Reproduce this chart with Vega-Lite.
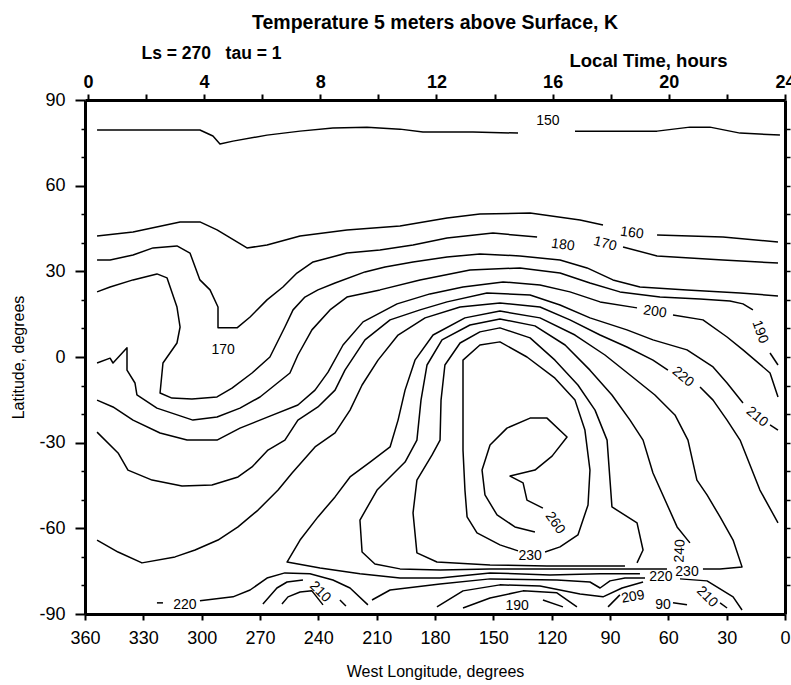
{
"$schema":"https://vega.github.io/schema/vega-lite/v6.json",
"width":700,"height":514,
"autosize":{"type":"none"},
"padding":{"left":85,"top":100,"right":6,"bottom":71},
"background":"white",
"title":{"text":"Temperature 5 meters above Surface, K","font":"Liberation Sans","fontSize":19.5,"fontWeight":"bold","color":"black","anchor":"middle","offset":11},
"config":{"view":{"stroke":null},"axis":{"grid":false,"domainColor":"black","tickColor":"black","labelColor":"black","titleColor":"black","labelFont":"Liberation Sans","titleFont":"Liberation Sans","labelFlush":false,"labelOverlap":false,"labelBound":false}},
"datasets":{
"lines":[
{"s":"A","lon":353.8,"lat":79.5},{"s":"A","lon":300.9,"lat":79.5},{"s":"A","lon":294.2,"lat":77.4},{"s":"A","lon":290.6,"lat":74.6},{"s":"A","lon":283.9,"lat":75.6},{"s":"A","lon":266.4,"lat":77.7},{"s":"A","lon":249.4,"lat":79.1},{"s":"A","lon":232.5,"lat":80.2},{"s":"A","lon":215.0,"lat":80.5},{"s":"A","lon":198.0,"lat":79.8},{"s":"A","lon":186.2,"lat":78.8},{"s":"A","lon":160.5,"lat":78.8},{"s":"A","lon":137.3,"lat":78.4},
{"s":"B","lon":108.0,"lat":79.1},{"s":"B","lon":65.8,"lat":79.1},{"s":"B","lon":48.9,"lat":80.5},{"s":"B","lon":38.6,"lat":80.5},{"s":"B","lon":23.1,"lat":78.4},{"s":"B","lon":2.6,"lat":77.7},
{"s":"C","lon":353.8,"lat":42.4},{"s":"C","lon":335.3,"lat":43.8},{"s":"C","lon":311.1,"lat":47.3},{"s":"C","lon":300.9,"lat":47.3},{"s":"C","lon":292.1,"lat":44.5},{"s":"C","lon":276.7,"lat":38.2},{"s":"C","lon":266.4,"lat":39.2},{"s":"C","lon":249.4,"lat":42.4},{"s":"C","lon":225.3,"lat":44.5},{"s":"C","lon":198.0,"lat":45.9},{"s":"C","lon":173.8,"lat":48.7},{"s":"C","lon":156.9,"lat":50.1},{"s":"C","lon":131.1,"lat":50.4},{"s":"C","lon":105.4,"lat":48.0},{"s":"C","lon":93.6,"lat":46.2},
{"s":"D","lon":65.8,"lat":42.7},{"s":"D","lon":31.9,"lat":42.0},{"s":"D","lon":3.6,"lat":40.3},
{"s":"E","lon":353.8,"lat":34.0},{"s":"E","lon":347.1,"lat":34.0},{"s":"E","lon":335.3,"lat":35.7},{"s":"E","lon":325.0,"lat":38.2},{"s":"E","lon":312.7,"lat":38.9},{"s":"E","lon":306.0,"lat":36.4},{"s":"E","lon":300.9,"lat":27.0},{"s":"E","lon":295.7,"lat":23.5},{"s":"E","lon":291.6,"lat":17.5},{"s":"E","lon":291.6,"lat":10.2},{"s":"E","lon":281.8,"lat":10.2},{"s":"E","lon":275.1,"lat":14.0},{"s":"E","lon":266.4,"lat":20.0},{"s":"E","lon":258.2,"lat":24.5},{"s":"E","lon":251.0,"lat":29.4},{"s":"E","lon":242.7,"lat":33.3},{"s":"E","lon":225.3,"lat":36.4},{"s":"E","lon":208.3,"lat":37.5},{"s":"E","lon":191.3,"lat":39.2},{"s":"E","lon":173.8,"lat":41.7},{"s":"E","lon":150.2,"lat":43.4},{"s":"E","lon":127.5,"lat":42.0},
{"s":"F","lon":83.3,"lat":38.5},{"s":"F","lon":65.8,"lat":35.4},{"s":"F","lon":31.9,"lat":34.0},{"s":"F","lon":3.6,"lat":32.9},
{"s":"G","lon":353.8,"lat":22.8},{"s":"G","lon":347.1,"lat":24.5},{"s":"G","lon":335.3,"lat":27.0},{"s":"G","lon":323.0,"lat":29.1},{"s":"G","lon":317.8,"lat":27.7},{"s":"G","lon":312.7,"lat":17.5},{"s":"G","lon":311.1,"lat":10.5},{"s":"G","lon":312.7,"lat":4.9},{"s":"G","lon":319.9,"lat":-2.1},{"s":"G","lon":321.4,"lat":-12.6},{"s":"G","lon":315.3,"lat":-14.4},{"s":"G","lon":305.0,"lat":-14.7},{"s":"G","lon":292.1,"lat":-14.0},{"s":"G","lon":284.4,"lat":-10.9},{"s":"G","lon":274.1,"lat":-5.6},{"s":"G","lon":264.9,"lat":0.0},{"s":"G","lon":257.2,"lat":10.5},{"s":"G","lon":253.0,"lat":16.5},{"s":"G","lon":246.9,"lat":21.0},{"s":"G","lon":240.2,"lat":23.5},{"s":"G","lon":231.4,"lat":25.9},{"s":"G","lon":216.0,"lat":29.8},{"s":"G","lon":205.7,"lat":31.5},{"s":"G","lon":191.3,"lat":33.3},{"s":"G","lon":173.8,"lat":35.0},{"s":"G","lon":156.9,"lat":36.1},{"s":"G","lon":136.3,"lat":35.4},{"s":"G","lon":115.7,"lat":34.0},{"s":"G","lon":101.8,"lat":31.2},{"s":"G","lon":88.5,"lat":27.0},{"s":"G","lon":74.6,"lat":24.5},{"s":"G","lon":50.4,"lat":23.5},{"s":"G","lon":23.1,"lat":22.4},{"s":"G","lon":3.6,"lat":21.4},
{"s":"H","lon":353.8,"lat":-2.1},{"s":"H","lon":347.1,"lat":-0.4},{"s":"H","lon":345.6,"lat":-2.1},{"s":"H","lon":338.4,"lat":3.2},{"s":"H","lon":338.4,"lat":-4.6},{"s":"H","lon":334.3,"lat":-9.1},{"s":"H","lon":333.3,"lat":-13.3},{"s":"H","lon":323.0,"lat":-17.9},{"s":"H","lon":304.5,"lat":-22.1},{"s":"H","lon":292.1,"lat":-21.0},{"s":"H","lon":280.3,"lat":-17.9},{"s":"H","lon":270.0,"lat":-14.0},{"s":"H","lon":262.3,"lat":-9.8},{"s":"H","lon":254.6,"lat":-5.6},{"s":"H","lon":250.5,"lat":0.7},{"s":"H","lon":243.3,"lat":9.5},{"s":"H","lon":234.0,"lat":16.5},{"s":"H","lon":225.3,"lat":21.0},{"s":"H","lon":208.3,"lat":23.5},{"s":"H","lon":187.7,"lat":27.0},{"s":"H","lon":162.0,"lat":30.5},{"s":"H","lon":136.3,"lat":31.2},{"s":"H","lon":115.7,"lat":29.4},{"s":"H","lon":100.3,"lat":25.9},{"s":"H","lon":84.9,"lat":22.8},{"s":"H","lon":64.3,"lat":21.0},{"s":"H","lon":43.7,"lat":20.3},{"s":"H","lon":28.3,"lat":19.6},{"s":"H","lon":21.6,"lat":18.6},{"s":"H","lon":16.5,"lat":16.5},
{"s":"H2","lon":7.7,"lat":1.4},{"s":"H2","lon":3.6,"lat":-2.8},
{"s":"I","lon":353.8,"lat":-15.1},{"s":"I","lon":345.6,"lat":-17.5},{"s":"I","lon":335.3,"lat":-22.1},{"s":"I","lon":321.4,"lat":-26.6},{"s":"I","lon":307.5,"lat":-29.1},{"s":"I","lon":292.1,"lat":-29.1},{"s":"I","lon":280.3,"lat":-24.9},{"s":"I","lon":264.9,"lat":-20.7},{"s":"I","lon":250.5,"lat":-16.8},{"s":"I","lon":241.7,"lat":-11.6},{"s":"I","lon":235.0,"lat":-5.3},{"s":"I","lon":227.3,"lat":4.2},{"s":"I","lon":217.0,"lat":12.3},{"s":"I","lon":199.5,"lat":18.6},{"s":"I","lon":182.6,"lat":22.1},{"s":"I","lon":165.6,"lat":24.5},{"s":"I","lon":145.0,"lat":26.3},{"s":"I","lon":126.0,"lat":25.2},{"s":"I","lon":110.6,"lat":22.8},{"s":"I","lon":95.1,"lat":19.3},{"s":"I","lon":76.1,"lat":17.2},
{"s":"I2","lon":57.6,"lat":14.7},{"s":"I2","lon":42.2,"lat":13.0},{"s":"I2","lon":29.8,"lat":7.0},{"s":"I2","lon":21.6,"lat":2.5},{"s":"I2","lon":7.7,"lat":-5.6},{"s":"I2","lon":3.6,"lat":-14.0},
{"s":"J","lon":353.8,"lat":-26.3},{"s":"J","lon":343.0,"lat":-33.6},{"s":"J","lon":337.9,"lat":-39.6},{"s":"J","lon":325.5,"lat":-43.1},{"s":"J","lon":310.1,"lat":-45.2},{"s":"J","lon":294.7,"lat":-44.8},{"s":"J","lon":281.3,"lat":-42.0},{"s":"J","lon":274.1,"lat":-38.5},{"s":"J","lon":265.9,"lat":-32.6},{"s":"J","lon":257.2,"lat":-29.1},{"s":"J","lon":250.5,"lat":-22.1},{"s":"J","lon":240.2,"lat":-17.5},{"s":"J","lon":231.4,"lat":-11.6},{"s":"J","lon":226.3,"lat":-4.6},{"s":"J","lon":216.0,"lat":6.0},{"s":"J","lon":203.1,"lat":13.0},{"s":"J","lon":187.7,"lat":16.5},{"s":"J","lon":173.8,"lat":19.3},{"s":"J","lon":153.3,"lat":22.4},{"s":"J","lon":131.1,"lat":21.7},{"s":"J","lon":115.7,"lat":18.2},{"s":"J","lon":100.3,"lat":13.7},{"s":"J","lon":81.3,"lat":9.5},{"s":"J","lon":67.9,"lat":6.0},{"s":"J","lon":50.4,"lat":2.5},{"s":"J","lon":37.0,"lat":-3.5},{"s":"J","lon":29.8,"lat":-9.1},{"s":"J","lon":21.6,"lat":-16.1},
{"s":"J2","lon":7.7,"lat":-23.8},{"s":"J2","lon":3.6,"lat":-25.6},
{"s":"K","lon":353.8,"lat":-64.1},{"s":"K","lon":343.0,"lat":-68.3},{"s":"K","lon":330.7,"lat":-72.1},{"s":"K","lon":313.7,"lat":-70.0},{"s":"K","lon":303.4,"lat":-67.6},{"s":"K","lon":291.6,"lat":-64.1},{"s":"K","lon":281.3,"lat":-59.5},{"s":"K","lon":271.0,"lat":-53.6},{"s":"K","lon":260.7,"lat":-46.6},{"s":"K","lon":253.5,"lat":-40.6},{"s":"K","lon":241.7,"lat":-31.5},{"s":"K","lon":231.4,"lat":-26.6},{"s":"K","lon":223.7,"lat":-18.6},{"s":"K","lon":217.5,"lat":-9.8},{"s":"K","lon":209.3,"lat":-1.1},{"s":"K","lon":199.0,"lat":7.7},{"s":"K","lon":185.1,"lat":13.7},{"s":"K","lon":167.1,"lat":17.5},{"s":"K","lon":146.6,"lat":18.9},{"s":"K","lon":126.0,"lat":17.5},{"s":"K","lon":110.6,"lat":13.0},{"s":"K","lon":95.1,"lat":7.7},{"s":"K","lon":81.3,"lat":3.5},{"s":"K","lon":67.9,"lat":-1.1},{"s":"K","lon":60.2,"lat":-4.6},
{"s":"K2","lon":43.7,"lat":-10.5},{"s":"K2","lon":37.0,"lat":-15.1},{"s":"K2","lon":29.8,"lat":-22.1},{"s":"K2","lon":23.1,"lat":-29.1},{"s":"K2","lon":12.9,"lat":-46.6},{"s":"K2","lon":3.6,"lat":-58.1},
{"s":"L","lon":74.6,"lat":-75.9},{"s":"L","lon":95.1,"lat":-75.9},{"s":"L","lon":120.9,"lat":-76.3},{"s":"L","lon":151.7,"lat":-75.6},{"s":"L","lon":177.4,"lat":-77.4},{"s":"L","lon":198.0,"lat":-77.4},{"s":"L","lon":218.6,"lat":-75.9},{"s":"L","lon":239.1,"lat":-73.9},{"s":"L","lon":256.1,"lat":-71.8},{"s":"L","lon":249.4,"lat":-64.1},{"s":"L","lon":240.2,"lat":-56.0},{"s":"L","lon":231.4,"lat":-49.0},{"s":"L","lon":223.7,"lat":-42.0},{"s":"L","lon":213.4,"lat":-36.8},{"s":"L","lon":203.1,"lat":-31.5},{"s":"L","lon":199.0,"lat":-22.1},{"s":"L","lon":195.4,"lat":-11.6},{"s":"L","lon":190.3,"lat":-1.1},{"s":"L","lon":181.0,"lat":7.7},{"s":"L","lon":164.6,"lat":13.7},{"s":"L","lon":146.6,"lat":16.1},{"s":"L","lon":126.0,"lat":13.7},{"s":"L","lon":108.0,"lat":7.7},{"s":"L","lon":92.6,"lat":0.7},{"s":"L","lon":79.7,"lat":-6.3},{"s":"L","lon":66.9,"lat":-13.3},{"s":"L","lon":56.6,"lat":-20.3},{"s":"L","lon":49.9,"lat":-29.1},{"s":"L","lon":45.3,"lat":-43.1},{"s":"L","lon":40.1,"lat":-48.3},{"s":"L","lon":33.4,"lat":-56.0},{"s":"L","lon":26.7,"lat":-64.1},{"s":"L","lon":22.1,"lat":-73.5},{"s":"L","lon":33.4,"lat":-74.2},{"s":"L","lon":42.2,"lat":-74.2},
{"s":"M","lon":60.7,"lat":-74.2},{"s":"M","lon":95.1,"lat":-74.2},{"s":"M","lon":120.9,"lat":-74.2},{"s":"M","lon":151.7,"lat":-74.2},{"s":"M","lon":177.4,"lat":-74.6},{"s":"M","lon":198.0,"lat":-74.2},{"s":"M","lon":210.9,"lat":-72.5},{"s":"M","lon":217.5,"lat":-68.3},{"s":"M","lon":218.6,"lat":-57.1},{"s":"M","lon":209.8,"lat":-46.6},{"s":"M","lon":195.4,"lat":-36.8},{"s":"M","lon":189.3,"lat":-29.1},{"s":"M","lon":187.2,"lat":-15.1},{"s":"M","lon":184.1,"lat":-2.8},{"s":"M","lon":176.4,"lat":6.0},{"s":"M","lon":162.0,"lat":11.2},{"s":"M","lon":146.6,"lat":13.3},{"s":"M","lon":128.6,"lat":10.9},{"s":"M","lon":113.1,"lat":4.2},{"s":"M","lon":100.3,"lat":-4.6},{"s":"M","lon":89.0,"lat":-13.3},{"s":"M","lon":79.7,"lat":-22.1},{"s":"M","lon":73.0,"lat":-29.1},{"s":"M","lon":67.9,"lat":-40.6},{"s":"M","lon":55.5,"lat":-59.5},{"s":"M","lon":48.9,"lat":-65.1},
{"s":"N","lon":82.3,"lat":-73.2},{"s":"N","lon":122.4,"lat":-73.2},{"s":"N","lon":151.7,"lat":-72.8},{"s":"N","lon":179.0,"lat":-71.8},{"s":"N","lon":189.3,"lat":-68.6},{"s":"N","lon":191.3,"lat":-54.6},{"s":"N","lon":189.3,"lat":-43.1},{"s":"N","lon":181.5,"lat":-34.3},{"s":"N","lon":177.4,"lat":-29.1},{"s":"N","lon":176.9,"lat":-15.1},{"s":"N","lon":174.9,"lat":-2.8},{"s":"N","lon":167.1,"lat":4.9},{"s":"N","lon":156.9,"lat":8.8},{"s":"N","lon":146.6,"lat":10.2},{"s":"N","lon":131.1,"lat":6.7},{"s":"N","lon":118.3,"lat":-1.1},{"s":"N","lon":106.5,"lat":-9.8},{"s":"N","lon":97.7,"lat":-18.6},{"s":"N","lon":91.5,"lat":-29.1},{"s":"N","lon":90.0,"lat":-43.1},{"s":"N","lon":89.0,"lat":-52.5},{"s":"N","lon":76.1,"lat":-58.1},{"s":"N","lon":73.0,"lat":-67.6},{"s":"N","lon":76.1,"lat":-72.1},
{"s":"O","lon":123.4,"lat":-68.3},{"s":"O","lon":115.7,"lat":-66.5},{"s":"O","lon":106.5,"lat":-62.3},{"s":"O","lon":101.3,"lat":-51.8},{"s":"O","lon":100.3,"lat":-39.6},{"s":"O","lon":102.9,"lat":-25.6},{"s":"O","lon":108.0,"lat":-15.1},{"s":"O","lon":118.3,"lat":-7.4},{"s":"O","lon":132.7,"lat":0.0},{"s":"O","lon":146.6,"lat":5.3},{"s":"O","lon":156.9,"lat":4.2},{"s":"O","lon":165.6,"lat":-1.1},{"s":"O","lon":165.6,"lat":-32.6},{"s":"O","lon":164.6,"lat":-46.6},{"s":"O","lon":163.5,"lat":-56.0},{"s":"O","lon":158.4,"lat":-61.6},{"s":"O","lon":146.6,"lat":-65.8},{"s":"O","lon":137.3,"lat":-67.9},
{"s":"P","lon":124.5,"lat":-52.9},{"s":"P","lon":132.7,"lat":-50.1},{"s":"P","lon":134.7,"lat":-44.1},{"s":"P","lon":141.4,"lat":-41.7},{"s":"P","lon":128.6,"lat":-39.6},{"s":"P","lon":119.8,"lat":-34.7},{"s":"P","lon":112.1,"lat":-28.0},{"s":"P","lon":122.4,"lat":-21.4},{"s":"P","lon":131.1,"lat":-21.4},{"s":"P","lon":143.0,"lat":-24.9},{"s":"P","lon":151.7,"lat":-30.8},{"s":"P","lon":155.8,"lat":-39.6},{"s":"P","lon":154.3,"lat":-48.3},{"s":"P","lon":148.1,"lat":-55.3},{"s":"P","lon":138.9,"lat":-59.5},{"s":"P","lon":128.6,"lat":-61.3},
{"s":"Q0","lon":323.0,"lat":-86.1},{"s":"Q0","lon":319.9,"lat":-86.1},
{"s":"Q1","lon":300.9,"lat":-85.4},{"s":"Q1","lon":283.9,"lat":-84.0},{"s":"Q1","lon":275.1,"lat":-81.6},{"s":"Q1","lon":266.4,"lat":-77.4},{"s":"Q1","lon":257.2,"lat":-75.6},{"s":"Q1","lon":244.3,"lat":-75.9},{"s":"Q1","lon":232.5,"lat":-78.1},{"s":"Q1","lon":223.7,"lat":-80.9},{"s":"Q1","lon":214.5,"lat":-86.8},
{"s":"Q2","lon":268.5,"lat":-86.5},{"s":"Q2","lon":261.3,"lat":-80.9},{"s":"Q2","lon":256.1,"lat":-78.8},{"s":"Q2","lon":247.9,"lat":-78.1},
{"s":"Q2b","lon":228.9,"lat":-85.1},{"s":"Q2b","lon":225.8,"lat":-87.2},
{"s":"Q3","lon":258.7,"lat":-86.5},{"s":"Q3","lon":255.6,"lat":-84.0},{"s":"Q3","lon":249.4,"lat":-82.3},{"s":"Q3","lon":243.3,"lat":-81.9},{"s":"Q3","lon":237.6,"lat":-86.8},
{"s":"R1","lon":212.4,"lat":-85.1},{"s":"R1","lon":203.1,"lat":-81.6},{"s":"R1","lon":177.4,"lat":-79.5},{"s":"R1","lon":151.7,"lat":-77.7},{"s":"R1","lon":117.3,"lat":-78.1},{"s":"R1","lon":100.3,"lat":-78.8},{"s":"R1","lon":95.1,"lat":-80.9},{"s":"R1","lon":90.0,"lat":-78.4},{"s":"R1","lon":82.3,"lat":-77.4},{"s":"R1","lon":72.0,"lat":-77.4},
{"s":"m1a","lon":179.0,"lat":-87.5},{"s":"m1a","lon":165.6,"lat":-81.9},{"s":"m1a","lon":146.6,"lat":-79.8},{"s":"m1a","lon":126.0,"lat":-80.2},{"s":"m1a","lon":105.4,"lat":-83.0},{"s":"m1a","lon":93.6,"lat":-84.0},{"s":"m1a","lon":83.8,"lat":-80.9},{"s":"m1a","lon":73.0,"lat":-78.8},
{"s":"m1b","lon":54.0,"lat":-77.7},{"s":"m1b","lon":40.1,"lat":-78.4},{"s":"m1b","lon":26.7,"lat":-84.0},{"s":"m1b","lon":22.1,"lat":-88.6},
{"s":"m2","lon":165.6,"lat":-87.9},{"s":"m2","lon":151.7,"lat":-84.4},{"s":"m2","lon":134.7,"lat":-81.9},{"s":"m2","lon":117.3,"lat":-82.6},{"s":"m2","lon":107.0,"lat":-87.5},
{"s":"m3","lon":124.5,"lat":-85.1},{"s":"m3","lon":114.2,"lat":-87.5},
{"s":"v1","lon":91.0,"lat":-87.5},{"s":"v1","lon":84.9,"lat":-83.3},
{"s":"d1","lon":57.6,"lat":-86.1},{"s":"d1","lon":50.4,"lat":-86.8},
{"s":"d2","lon":33.4,"lat":-86.1},{"s":"d2","lon":29.8,"lat":-87.9}
],
"labels":[
{"t":"150","lon":121.9,"lat":82.6,"a":0},{"t":"160","lon":78.7,"lat":43.4,"a":8},{"t":"170","lon":92.6,"lat":39.6,"a":15},{"t":"180","lon":114.2,"lat":39.2,"a":8},{"t":"170","lon":289.0,"lat":2.5,"a":0},{"t":"200","lon":66.9,"lat":15.8,"a":8},{"t":"190","lon":12.9,"lat":8.8,"a":70},{"t":"220","lon":52.5,"lat":-7.0,"a":40},{"t":"210","lon":14.4,"lat":-21.0,"a":40},{"t":"260","lon":118.3,"lat":-58.1,"a":55},{"t":"230","lon":131.1,"lat":-69.7,"a":0},{"t":"240","lon":54.0,"lat":-67.9,"a":-88},{"t":"230","lon":50.4,"lat":-75.3,"a":0},{"t":"220","lon":63.8,"lat":-77.0,"a":0},{"t":"209","lon":78.2,"lat":-84.0,"a":-10},{"t":"90","lon":62.7,"lat":-86.8,"a":0},{"t":"210","lon":40.1,"lat":-84.0,"a":45},{"t":"190","lon":137.8,"lat":-87.2,"a":0},{"t":"220","lon":308.6,"lat":-86.8,"a":0},{"t":"210","lon":239.1,"lat":-82.3,"a":45}
],
"hours":[{"h":0},{"h":24}],
"one":[{"lat":0}]
},
"layer":[
{"data":{"name":"lines"},
 "mark":{"type":"line","color":"black","strokeWidth":1.5,"strokeJoin":"round"},
 "encoding":{
  "x":{"field":"lon","type":"quantitative","scale":{"domain":[0,360],"reverse":true,"nice":false,"zero":false},
       "axis":{"orient":"bottom","values":[0,30,60,90,120,150,180,210,240,270,300,330,360],"labelFontSize":18,"tickSize":6,"tickWidth":2,"domainWidth":3,"labelPadding":9,
               "title":"West Longitude, degrees","titleFontSize":16,"titleFontWeight":"normal","titleX":350,"titleY":57,"titleAlign":"center","titleBaseline":"middle"}},
  "y":{"field":"lat","type":"quantitative","scale":{"domain":[-90,90],"nice":false,"zero":false},
       "axis":{"orient":"left","values":[-90,-60,-30,0,30,60,90],"labelExpr":"'' + datum.value","labelFontSize":18,"tickSize":10,"tickWidth":2,"domainWidth":3,"labelPadding":10,
               "title":"Latitude, degrees","titleFontSize":16,"titleFontWeight":"normal","titleX":-67,"titleY":257,"titleAngle":-90,"titleAlign":"center","titleBaseline":"middle"}},
  "detail":{"field":"s","type":"nominal"},
  "order":{"value":null}
 }},
{"data":{"name":"labels"},
 "mark":{"type":"text","font":"Liberation Sans","fontSize":14,"color":"black","align":"center","baseline":"middle"},
 "encoding":{
  "x":{"field":"lon","type":"quantitative","scale":{"domain":[0,360],"reverse":true,"nice":false,"zero":false},"axis":null},
  "y":{"field":"lat","type":"quantitative","scale":{"domain":[-90,90],"nice":false,"zero":false},"axis":null},
  "text":{"field":"t","type":"nominal"},
  "angle":{"field":"a","type":"quantitative","scale":null}
 }},
{"data":{"name":"hours"},
 "mark":{"type":"point","opacity":0},
 "encoding":{
  "x":{"field":"h","type":"quantitative","scale":{"domain":[-0.1,24],"nice":false,"zero":false},
       "axis":{"orient":"top","values":[0,2,4,6,8,10,12,14,16,18,20,22,24],"labelExpr":"datum.value % 4 === 0 ? datum.label : ''","labelFontSize":18,"labelFontWeight":"bold","tickSize":6,"tickWidth":2,"domainWidth":3,"labelPadding":3,
               "title":"Local Time, hours","titleFontSize":18.5,"titleFontWeight":"bold","titleX":563,"titleY":-40,"titleAlign":"center","titleBaseline":"middle"}}
 }},
{"data":{"name":"one"},
 "mark":{"type":"point","opacity":0},
 "encoding":{
  "y":{"field":"lat","type":"quantitative","scale":{"domain":[-90,90],"nice":false,"zero":false},
       "axis":{"orient":"left","values":[-80,-70,-50,-40,-20,-10,10,20,40,50,70,80],"labels":false,"domain":false,"tickSize":4,"tickWidth":1.5,"title":null}}
 }},
{"data":{"name":"one"},
 "mark":{"type":"point","opacity":0},
 "encoding":{
  "y":{"field":"lat","type":"quantitative","scale":{"domain":[-90,90],"nice":false,"zero":false},
       "axis":{"orient":"right","values":[-80,-70,-60,-50,-40,-30,-20,-10,0,10,20,30,40,50,60,70,80],"labels":false,"tickSize":5,"tickWidth":1.5,"domainWidth":3,
               "title":"Ls = 270\u00a0\u00a0 tau = 1","titleFontSize":17.5,"titleFontWeight":"bold","titleAngle":0,"titleX":-574,"titleY":-47,"titleAlign":"center","titleBaseline":"middle"}}
 }}
],
"resolve":{"scale":{"x":"independent"},"axis":{"x":"independent","y":"independent"}}
}
